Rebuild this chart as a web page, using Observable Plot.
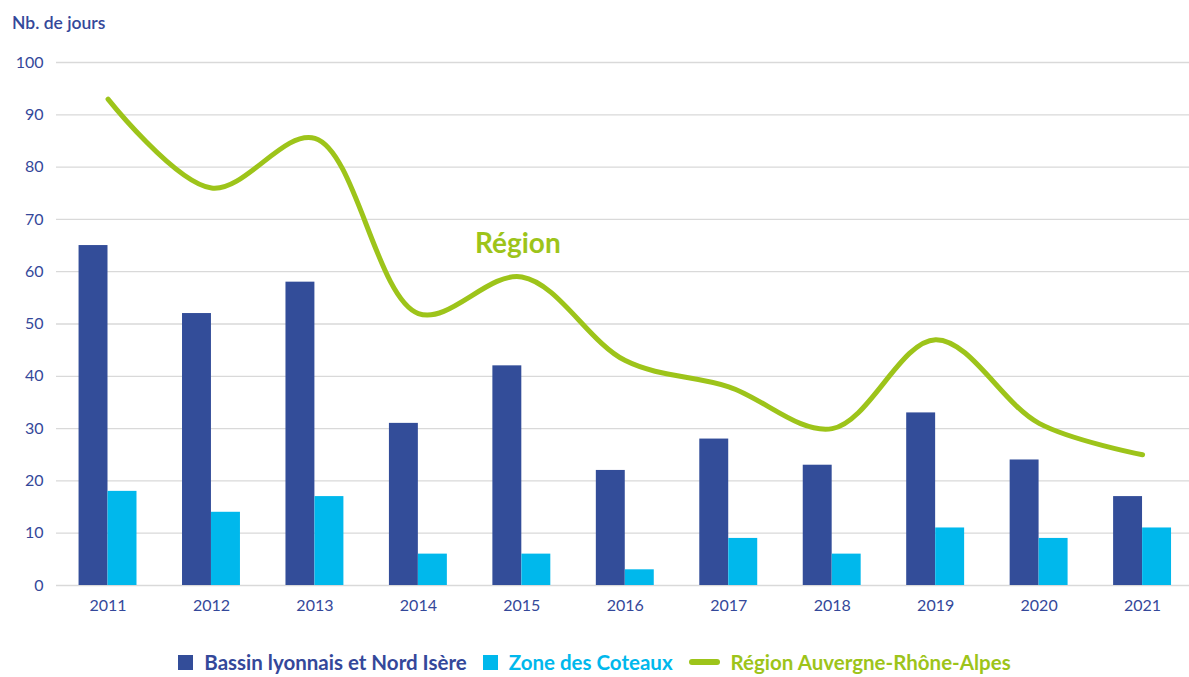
<!DOCTYPE html>
<html>
<head>
<meta charset="utf-8">
<script src="https://cdn.jsdelivr.net/npm/d3@7"></script>
<script src="https://cdn.jsdelivr.net/npm/@observablehq/plot@0.6"></script>
<style>
  body { margin: 0; background: #fff; font-family: Lato, "Open Sans", sans-serif; }
  #wrap { position: relative; width: 1189px; height: 677px; }
  #ylabel { position: absolute; left: 12px; top: 12px; font-size: 17.5px; color: #34489a; font-weight: 600; }
  #legend { position: absolute; left: 0; top: 650px; width: 1189px; display: flex; justify-content: center; font-size: 20.5px; font-weight: 700; }
  .item { display: flex; align-items: center; margin: 0 8px; }
  .sw { width: 15px; height: 15px; margin-right: 11px; }
  .ln { width: 31px; height: 6px; border-radius: 3px; margin-right: 11px; }
</style>
</head>
<body>
<div id="wrap">
  <div id="ylabel">Nb. de jours</div>
  <div id="chart"></div>
  <div id="legend"></div>
</div>
<script>
const years = ["2011","2012","2013","2014","2015","2016","2017","2018","2019","2020","2021"];
const bassin = [65, 52, 58, 31, 42, 22, 28, 23, 33, 24, 17];
const coteaux = [18, 14, 17, 6, 6, 3, 9, 6, 11, 9, 11];
const region = [93, 76, 85.5, 52, 59, 43, 38, 30, 47, 31, 25];
const yTicks = [0, 10, 20, 30, 40, 50, 60, 70, 80, 90, 100];
const seriesNames = ["Bassin lyonnais et Nord Isère", "Zone des Coteaux", "Région Auvergne-Rhône-Alpes"];
const colors = ["#334d99", "#00b8ec", "#9dc41a"];
const annotation = "Région";

const dataB = years.map((y, i) => ({year: y, value: bassin[i]}));
const dataC = years.map((y, i) => ({year: y, value: coteaux[i]}));
const dataR = years.map((y, i) => ({year: y, value: region[i]}));

const chart = Plot.plot({
  width: 1189,
  height: 630,
  marginLeft: 56,
  marginRight: 0,
  marginTop: 62,
  marginBottom: 45,
  style: { fontFamily: "Lato, 'Open Sans', sans-serif", fontSize: "16px", color: "#34489a", background: "transparent" },
  x: { type: "band", domain: years, range: [55.8, 1193.8], paddingInner: 0.44, paddingOuter: 0.22, round: false, label: null },
  y: { domain: [0, 100], ticks: yTicks, label: null },
  marks: [
    Plot.ruleY(yTicks, { stroke: "#d9d9d9", strokeWidth: 1.3 }),
    Plot.barY(dataB, { x: "year", y: "value", fill: colors[0], insetRight: 29, insetLeft: 0 }),
    Plot.barY(dataC, { x: "year", y: "value", fill: colors[1], insetLeft: 29, insetRight: 0 }),
    Plot.lineY(dataR, { x: "year", y: "value", stroke: colors[2], strokeWidth: 5, curve: "catmull-rom" }),
    Plot.text([{year: "2015", value: 65}], { x: "year", y: "value", text: () => annotation, fill: colors[2], fontSize: 28, fontWeight: 700, dx: -4, dy: -2 }),
    Plot.axisX({ tickSize: 0, tickPadding: 14, fontSize: 16 }),
    Plot.axisY({ ticks: yTicks, tickSize: 0, tickPadding: 13, fontSize: 16 })
  ]
});
document.getElementById("chart").appendChild(chart);

const legend = document.getElementById("legend");
seriesNames.forEach((name, i) => {
  const it = document.createElement("div");
  it.className = "item";
  const sw = document.createElement("div");
  sw.className = i < 2 ? "sw" : "ln";
  sw.style.background = colors[i];
  const t = document.createElement("span");
  t.textContent = name;
  t.style.color = i === 0 ? "#34489a" : colors[i];
  it.appendChild(sw); it.appendChild(t);
  legend.appendChild(it);
});
</script>
</body>
</html>
